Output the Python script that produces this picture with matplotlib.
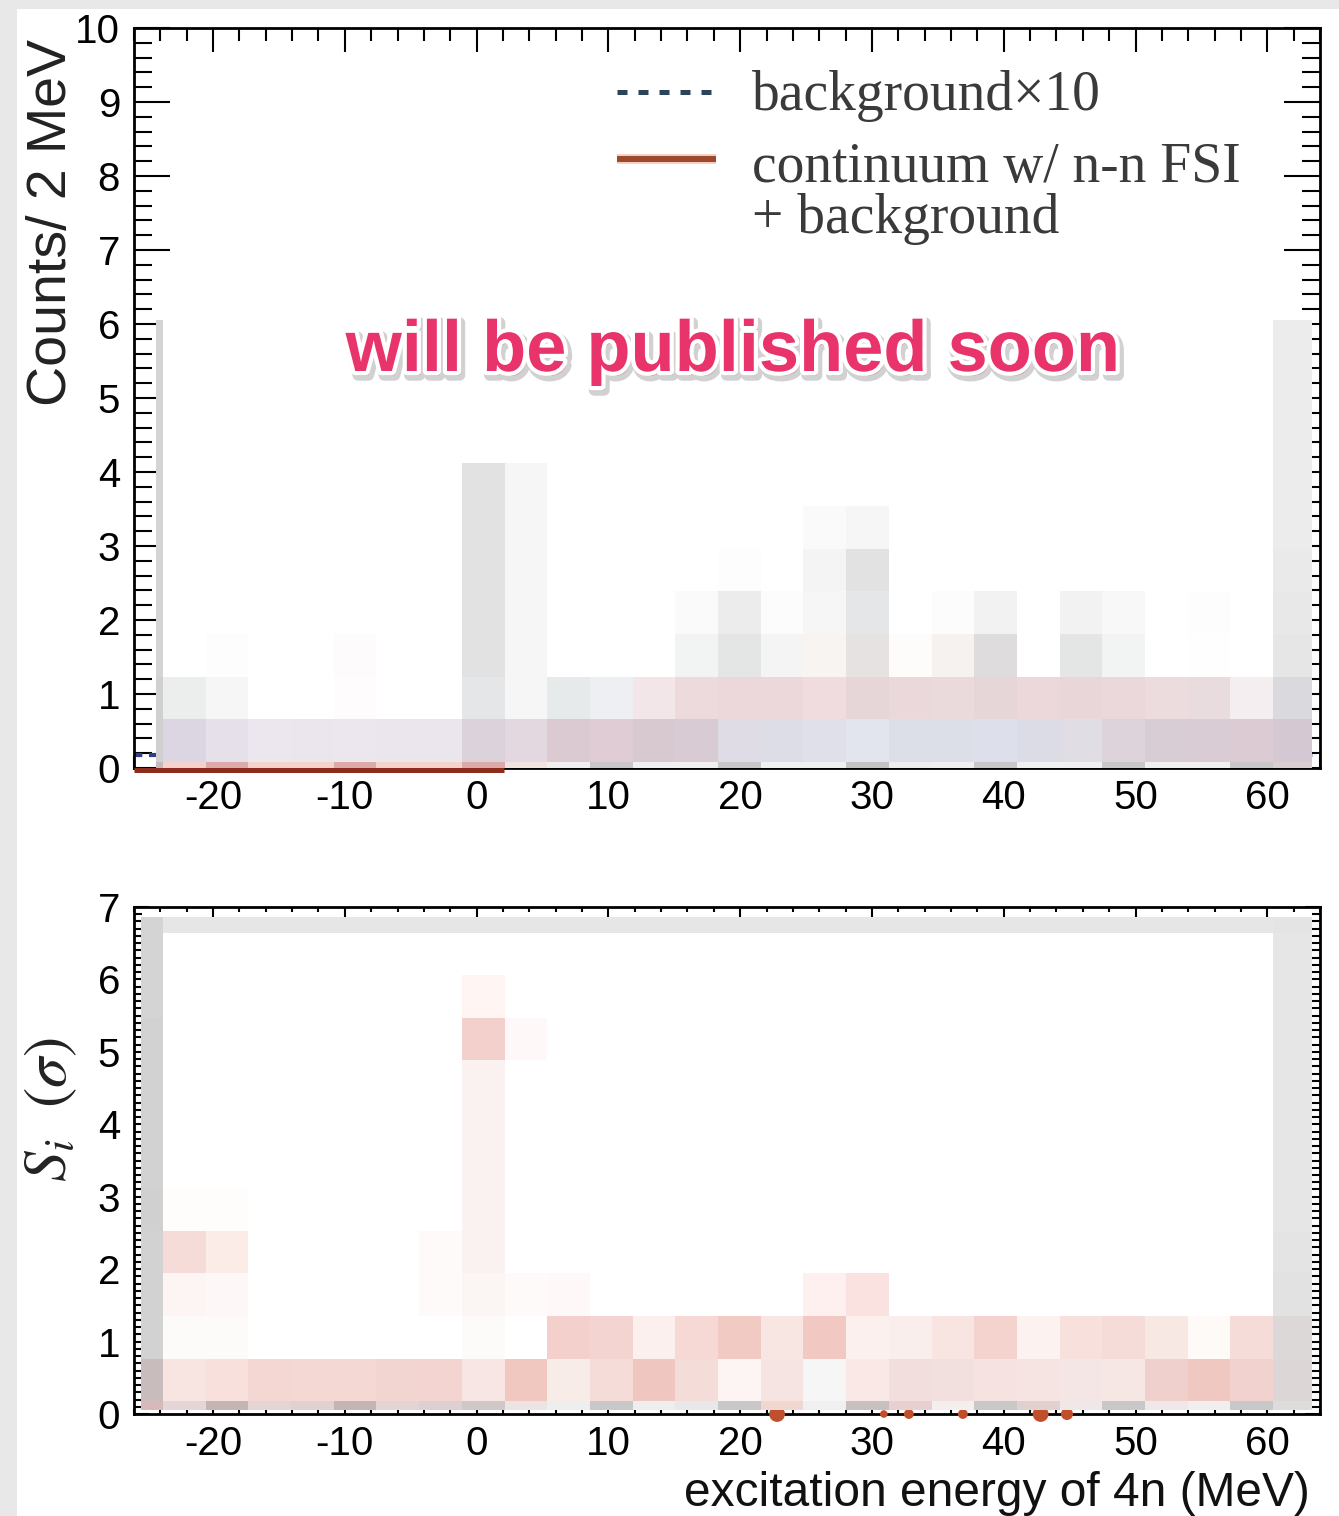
import matplotlib
matplotlib.use("Agg")
import matplotlib.pyplot as plt
import matplotlib.patheffects as pe
from matplotlib.patches import Rectangle
from matplotlib.ticker import MultipleLocator

plt.rcParams["axes.unicode_minus"] = False

W = "#ffffff"

# ---- mosaic (pixelated) cells ----
# top panel: x edges in MeV, y edges in counts
top_x_edges = [-24.33, -23.80, -20.56, -17.32, -14.08, -10.84, -7.60, -4.36, -1.12,
               2.12, 5.36, 8.60, 11.84, 15.08, 18.32, 21.56, 24.80, 28.04, 31.28,
               34.52, 37.76, 41.00, 44.24, 47.48, 50.72, 53.96, 57.20, 60.44, 63.42]
top_y_edges = [0.0, 0.081, 0.658, 1.235, 1.812, 2.389, 2.966, 3.543, 4.120,
               4.697, 5.274, 5.851, 6.054]

# rows bottom -> top, one colour per column (dicts: only non-white cells)
top_rows = [
    ["#c8b8b8", "#f6d2cc", "#dcaaa8", "#f6d2cc", "#f6d2cc", "#dcaaa8", "#f6d2cc", "#f6d2cc",
     "#dcaaa8", "#f2e2e0", "#f0eeee", "#c8c8c8", "#f0f0f0", "#f0f0f0", "#c8c8c8", "#f0f0f0",
     "#f0f0f0", "#c4c4c4", "#eeeeee", "#f0f0f0", "#c8c8c8", "#f0f0f0", "#f0f0f0", "#c8c8c8",
     "#f0f0f0", "#f0f0f0", "#c8c8c8", "#d8d0d0"],
    ["#d0d0d0", "#dcd6e2", "#e6e0ea", "#ece6ef", "#ebe5ee", "#ece6ef", "#ebe5ee", "#ebe5ee",
     "#dcd2dc", "#e4d8e0", "#dccad2", "#e0ccd4", "#d8c8d0", "#d8cbd3", "#e0dce6", "#dcdde6",
     "#dfe0ea", "#e2e4ee", "#dcdfe8", "#dcdfe8", "#dde0ea", "#dcdce6", "#e0dde4", "#dcd3db",
     "#d9cdd5", "#d9ccd4", "#dccbd3", "#d4c8d2"],
    ["#d0d0d0", "#eceeee", "#f6f6f6", W, W, "#fefcfc", W, W,
     "#e4e6e8", "#f6f6f6", "#e6eaea", "#eeeff2", "#f2e6e8", "#ecdadc", "#ecd8da", "#ecd8da",
     "#f0dcde", "#e6d6d8", "#ead8da", "#eadadc", "#e6d6d8", "#ecd8da", "#e8d6d8", "#ead8da",
     "#ecdcde", "#e8dcde", "#f4eef0", "#dadade"],
    ["#d4d4d4", W, "#fdfdfd", W, W, "#fdfbfb", W, W,
     "#e2e2e2", "#f6f6f6", W, W, W, "#f2f4f4", "#e4e6e6", "#f4f4f4",
     "#f8f4f2", "#e6e2e2", "#fefcfa", "#f6f2f0", "#dedcdc", W, "#e4e6e6", "#f2f4f4",
     W, "#fefefe", W, "#e6e6e6"],
    {0: "#d4d4d4", 8: "#e2e2e2", 9: "#f6f6f6", 13: "#fafafa", 14: "#ececec", 15: "#fcfcfc",
     16: "#f6f6f6", 17: "#e4e6e8", 19: "#fcfcfc", 20: "#f2f2f2", 22: "#f2f2f2", 23: "#f8f8f8",
     25: "#fdfdfd", 27: "#e8e8e8"},
    {0: "#d4d4d4", 8: "#e2e2e2", 9: "#f6f6f6", 14: "#fdfdfd", 16: "#f4f4f4", 17: "#e2e2e2",
     27: "#eaeaea"},
    {0: "#d4d4d4", 8: "#e2e2e2", 9: "#f6f6f6", 16: "#fafafa", 17: "#f6f6f6", 27: "#ececec"},
    {0: "#d4d4d4", 8: "#e2e2e2", 9: "#f6f6f6", 27: "#ececec"},
    {0: "#d4d4d4", 27: "#ececec"},
    {0: "#d4d4d4", 27: "#ececec"},
    {0: "#d4d4d4", 27: "#ececec"},
    {0: "#d4d4d4", 27: "#ececec"},
]

# bottom panel: x edges in MeV, y edges in sigma
bot_x_edges = [-25.50, -23.80, -20.56, -17.32, -14.08, -10.84, -7.60, -4.36, -1.12,
               2.12, 5.36, 8.60, 11.84, 15.08, 18.32, 21.56, 24.80, 28.04, 31.28,
               34.52, 37.76, 41.00, 44.24, 47.48, 50.72, 53.96, 57.20, 60.44, 63.42]
bot_y_edges = [0.055, 0.18, 0.76, 1.35, 1.94, 2.53, 3.12, 3.70, 4.29, 4.89,
               5.47, 6.06, 6.64, 6.86]

bot_rows = [
    ["#d8b8b8", "#e4d6d6", "#c4b4b4", "#e4d4d4", "#e0d0d0", "#c4b4b4", "#e4d4d4", "#dcd0d0",
     "#d0c8c8", "#ece4e4", "#eeeeee", "#c8c8c8", "#eeeeee", "#e8e8e8", "#c8c8c8", "#f0d8d0",
     "#f0f0f0", "#c8c0c0", "#e8d0d0", "#f4eeee", "#c8c8c8", "#e0d0d0", "#f0e8e8", "#c8c8c8",
     "#f0e8e8", "#f0eeee", "#c8c8c8", "#dcdcdc"],
    ["#c8bcbc", "#f8e4e0", "#f8e0dc", "#f4d6d2", "#f4d8d4", "#f4d8d4", "#f2d4d0", "#f4d4d0",
     "#f8e6e4", "#f0c8c0", "#f8ece8", "#f6dcd8", "#f0c6c0", "#f4dcd8", "#fdf5f4", "#f6e4e2",
     "#f6f6f6", "#fae8e6", "#f2dedc", "#f2e0de", "#f6e2e0", "#f6e4e2", "#f4e6e4", "#f6e6e4",
     "#f0d0cc", "#f0c8c2", "#f2d2ce", "#dcd6d6"],
    ["#d2d2d2", "#fdfafa", "#fdfafa", W, W, W, W, W,
     "#fdfafa", W, "#f4d0cc", "#f4d4d0", "#fcf0ee", "#f6d8d4", "#f2cac4", "#f8e6e2",
     "#f2c8c2", "#fcf0ee", "#faeeec", "#f8e4e0", "#f4d2ce", "#fcf2f0", "#f8e0dc", "#f6dcd8",
     "#f8e8e4", "#fefaf8", "#f6dcd8", "#dcd8d8"],
    {0: "#d2d2d2", 1: "#fdf5f4", 2: "#fdf8f7", 7: "#fffafa", 8: "#fbf5f4", 9: "#fefafa",
     10: "#fff8f8", 16: "#fdf0ee", 17: "#fae2e0", 27: "#e2e2e2"},
    {0: "#d2d2d2", 1: "#f6dcd8", 2: "#fcece8", 7: "#fffafa", 8: "#faf2f0", 27: "#e4e4e4"},
    {0: "#d0d0d0", 1: "#fffcfc", 2: "#fffcfc", 8: "#faf2f0", 27: "#e6e6e6"},
    {0: "#d2d2d2", 8: "#faf2f0", 27: "#e6e6e6"},
    {0: "#d2d2d2", 8: "#faf2f0", 27: "#e6e6e6"},
    {0: "#d2d2d2", 8: "#faf2f0", 27: "#e6e6e6"},
    {0: "#d2d2d2", 8: "#f4d0cc", 9: "#fef8f8", 27: "#e6e6e6"},
    {0: "#d4d4d4", 8: "#fff6f4", 27: "#e6e6e6"},
    {0: "#d4d4d4", 27: "#e6e6e6"},
    ["#d4d4d4"] + ["#e6e6e6"] * 26 + ["#e4e4e4"],
]

# visible pieces of the curves / points
bg_x = [-26, 64]          # background x10 (dashed)
bg_y = [0.17, 0.17]
cont_x = [-26, 2.1]       # continuum w/ n-n FSI + background
cont_y = [-0.03, -0.03]
pts_x = [22.8, 30.9, 32.8, 36.9, 42.8, 44.8]   # points at S_i = 0
pts_y = [0, 0, 0, 0, 0, 0]
pts_s = [130, 30, 50, 50, 130, 75]

top_yticks = list(range(0, 11))
bot_yticks = list(range(0, 8))
xticks = [-20, -10, 0, 10, 20, 30, 40, 50, 60]

SANS = "Liberation Sans"
SERIF = "Liberation Serif"
FW, FH = 1339, 1516


def draw_mosaic(ax, x_edges, y_edges, rows):
    n = len(x_edges) - 1
    for j, row in enumerate(rows):
        if isinstance(row, dict):
            row = [row.get(i, W) for i in range(n)]
        for i in range(n):
            ax.bar(x_edges[i], y_edges[j + 1] - y_edges[j], width=x_edges[i + 1] - x_edges[i],
                   bottom=y_edges[j], align="edge", color=row[i], linewidth=0,
                   antialiased=False, zorder=3)


def style_axes(ax, ymax, ylen, xlen):
    ax.set_xlim(-26, 64)
    ax.set_ylim(0, ymax)
    ax.set_xticks(xticks)
    ax.xaxis.set_minor_locator(MultipleLocator(2))
    for s in ax.spines.values():
        s.set_linewidth(2.0)
    ax.tick_params(which="both", direction="in", top=True, right=True, width=1.5,
                   labelsize=29, pad=8)
    ax.tick_params(axis="x", which="major", length=xlen[0])
    ax.tick_params(axis="x", which="minor", length=xlen[1])
    ax.tick_params(axis="y", which="major", length=ylen[0], pad=10)
    ax.tick_params(axis="y", which="minor", length=ylen[1])
    for lab in ax.get_xticklabels() + ax.get_yticklabels():
        lab.set_fontfamily(SANS)


fig = plt.figure(figsize=(FW / 100, FH / 100), dpi=100)
fig.patch.set_facecolor("#e8e8e8")
fig.add_artist(Rectangle((17 / FW, 0), 1 - 17 / FW, 1 - 9 / FH, transform=fig.transFigure,
                         facecolor="white", edgecolor="none", zorder=0))

# ---------------- top panel ----------------
ax1 = fig.add_axes([134 / FW, 1 - 768 / FH, 1186 / FW, 740 / FH])
ax1.set_facecolor("white")
ax1.plot(bg_x, bg_y, color="#2b3f8a", lw=3.0, dashes=(2, 1.6), zorder=2)
ax1.plot(cont_x, cont_y, color="#8c2c1c", lw=3.6, solid_capstyle="butt",
         clip_on=False, zorder=2.6)
draw_mosaic(ax1, top_x_edges, top_y_edges, top_rows)
style_axes(ax1, 10, (26, 13), (17, 9))
ax1.set_yticks(top_yticks)
ax1.yaxis.set_minor_locator(MultipleLocator(0.2))

# legend
ax1.plot([0.407, 0.489], [0.9135, 0.9135], transform=ax1.transAxes, color="#2c4459",
         lw=3.6, dashes=(2.0, 2.2), dash_capstyle="butt", zorder=5)
ax1.plot([0.407, 0.491], [0.823, 0.823], transform=ax1.transAxes, color="#9c4a2c",
         lw=4.3, solid_capstyle="butt", zorder=5,
         path_effects=[pe.Stroke(linewidth=7, foreground="#f6cabe"), pe.Normal()])
leg_kw = dict(transform=ax1.transAxes, family=SERIF, fontsize=40, color="#3a3a3a",
              ha="left", va="baseline", zorder=5)
ax1.text(0.521, 0.889, "background\u00d710", **leg_kw)
ax1.text(0.521, 0.792, "continuum w/ n-n FSI", **leg_kw)
ax1.text(0.521, 0.723, "+ background", **leg_kw)

# ---------------- bottom panel ----------------
ax2 = fig.add_axes([134 / FW, 1 - 1414 / FH, 1186 / FW, 507 / FH])
ax2.set_facecolor("white")
ax2.scatter(pts_x, pts_y, s=pts_s, color="#c0502c", linewidths=0, clip_on=False, zorder=2.6)
draw_mosaic(ax2, bot_x_edges, bot_y_edges, bot_rows)
style_axes(ax2, 7, (11, 6), (7, 3.6))
ax2.set_yticks(bot_yticks)
ax2.yaxis.set_minor_locator(MultipleLocator(0.1))

# axis titles
fig.text(52 / FW, 1 - 222 / FH, "Counts/ 2 MeV", rotation=90, ha="center", va="center",
         family=SANS, fontsize=40, color="#222222")
fig.text(50 / FW, 1 - 1110 / FH, r"$S_i\ \ (\sigma)$", rotation=90, ha="center",
         va="center", fontsize=44, color="#222222", math_fontfamily="stix")
fig.text(1310 / FW, 1 - 1493 / FH, "excitation energy of 4n (MeV)", ha="right",
         va="center", family=SANS, fontsize=34.5, color="#111111")

# overlay notice
fig.text(733 / FW, 1 - 371 / FH, "will be published soon", ha="center", va="baseline",
         family=SANS, fontweight="bold", fontsize=52, color="#e8336b", zorder=10,
         path_effects=[pe.Stroke(linewidth=8, foreground="#9a9a9a", alpha=0.45, offset=(2, -3)),
                       pe.Stroke(linewidth=6, foreground="white"), pe.Normal()])

fig.savefig("out.png", dpi=100, facecolor=fig.get_facecolor())
